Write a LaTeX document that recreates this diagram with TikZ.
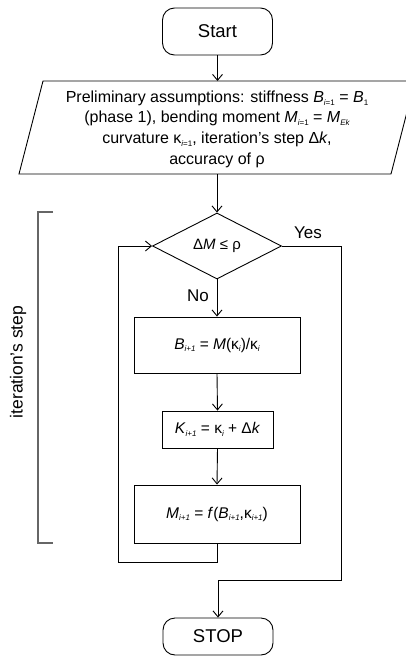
\documentclass[tikz,border=0pt]{standalone}
\usepackage{fontspec}
\setmainfont{Liberation Sans}
\usetikzlibrary{arrows.meta,shapes.geometric}
\newcommand\sbs[1]{\raisebox{-0.35ex}{\fontsize{8}{8}\selectfont\itshape #1}}
\tikzset{
  base/.style={draw, line width=0.9pt, inner sep=0pt, align=center, font=\fontsize{15.5}{20.5}\selectfont},
  term/.style={base, rounded corners=12pt, minimum width=110pt, font=\fontsize{18.5}{20}\selectfont},
  proc/.style={base, rectangle},
  dec/.style={base, diamond, minimum width=129pt, minimum height=66pt, font=\fontsize{15}{20}\selectfont},
  arr/.style={line width=0.9pt, -{Straight Barb[length=6pt,width=10pt,line width=0.9pt]}},
  ln/.style={line width=0.9pt},
  lbl/.style={font=\fontsize{17}{20}\selectfont, inner sep=0pt},
  brk/.style={draw=black!60, line width=1.2pt}
}
\begin{document}
\begin{tikzpicture}[x=1pt,y=-1pt]
\useasboundingbox (0,0) rectangle (406,656);
\clip (0,0) rectangle (406,656);
\node[term, minimum height=47pt] (start) at (217.5,31.5) {Start};
% parallelogram
\coordinate (pTL) at (43,81);
\coordinate (pTR) at (415,81);
\coordinate (pBR) at (391,174);
\coordinate (pBL) at (19,174);
\draw[ln] (pTL) -- (pTR) -- (pBR) -- (pBL) -- cycle;
\coordinate (pTop) at (217.5,81);
\coordinate (pBot) at (217,174);
\node[font=\fontsize{16}{20.7}\selectfont, align=center, inner sep=0pt] (para) at (217,129) {Preliminary assumptions: stiffness \textit{B}\sbs{i}\sbs{\upshape =1} = \textit{B}\sbs{\upshape 1}\\
(phase 1), bending moment \textit{M}\sbs{i}\sbs{\upshape =1} = \textit{M}\sbs{Ek}\\
curvature κ\sbs{i}\sbs{\upshape =1}, iteration’s step Δ\textit{k},\\
accuracy of ρ};
\node[dec] (dec) at (217,246) {Δ\textit{M} ≤ ρ};
\node[proc, minimum width=166pt, minimum height=56pt] (b1) at (217,345) {\textit{B}\sbs{i+1} = \textit{M}(κ\sbs{i})/κ\sbs{i}};
\node[proc, minimum width=111pt, minimum height=37pt] (b2) at (217.5,429.5) {\textit{K}\sbs{i+1} = κ\sbs{i} + Δ\textit{k}};
\node[proc, minimum width=166pt, minimum height=58pt] (b3) at (217,514) {\textit{M}\sbs{i+1} = \textit{f}(\textit{B}\sbs{i+1},κ\sbs{i+1})};
\node[term, minimum height=37pt] (stop) at (218,636.5) {STOP};
\coordinate (fbL) at (118,562);
\coordinate (yesR) at (341,580);
\draw[arr] (start.south) -- (pTop);
\draw[arr] (pBot) -- (dec.north);
\draw[arr] (dec.south) -- (b1.north);
\draw[arr] (b1.south) -- (b2.north);
\draw[arr] (b2.south) -- (b3.north);
\draw[arr] (b3.south) |- (fbL) |- (dec.west);
\draw[arr] (dec.east) -| (yesR) -| (stop.north);
\node[lbl] (yes) at (308,233) {Yes};
\node[lbl] (no) at (198,296) {No};
% bracket
\coordinate (bt) at (53,212);
\coordinate (bb) at (53,543);
\draw[brk] (bt) -- (38,212) -- (38,543) -- (bb);
\node[lbl, rotate=90, font=\fontsize{17.5}{20}\selectfont] (iter) at (18,362) {iteration’s step};
\end{tikzpicture}
\end{document}
